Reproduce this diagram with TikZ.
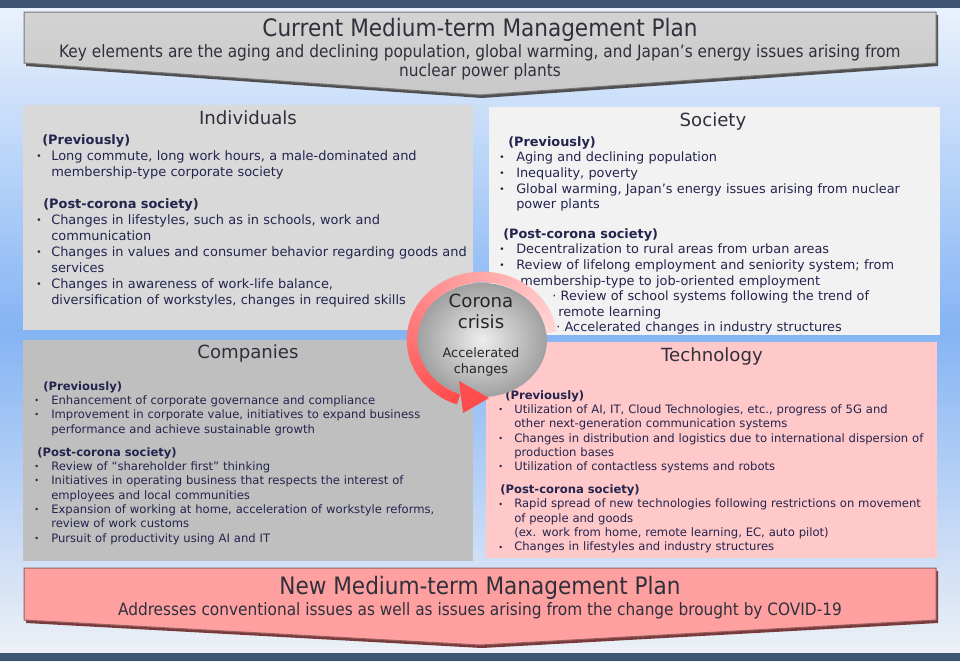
\documentclass[tikz,border=0pt]{standalone}
\usepackage{fontspec}
\setmainfont{DejaVu Sans}
\newfontfamily\bannerfont{DejaVu Sans Condensed}
\usetikzlibrary{shapes.geometric}
\definecolor{barblue}{RGB}{61,85,112}
\definecolor{skytop}{RGB}{236,243,252}
\definecolor{skymid}{RGB}{132,180,244}
\definecolor{skybot}{RGB}{240,242,246}
\definecolor{navytext}{RGB}{36,36,78}
\definecolor{titlegray}{RGB}{48,48,60}
\definecolor{indgray}{RGB}{217,217,217}
\definecolor{socwhite}{RGB}{242,242,242}
\definecolor{comgray}{RGB}{191,191,191}
\definecolor{techpink}{RGB}{255,201,201}
\definecolor{curgray}{RGB}{200,200,200}
\definecolor{curshadow}{RGB}{80,80,80}
\definecolor{newpink}{RGB}{255,160,160}
\definecolor{newshadow}{RGB}{120,58,58}
\definecolor{crisislight}{RGB}{238,238,238}
\definecolor{crisisdark}{RGB}{160,160,160}
\definecolor{arcpink}{RGB}{255,214,214}
\definecolor{arcred}{RGB}{255,76,76}

% bullet item with hanging text
\newcommand\itm[2][11.25pt]{\par\hangindent=#1\hangafter=1\noindent\makebox[#1][l]{\raisebox{0.15ex}{\scalebox{0.7}{•}}}#2}
\newcommand\hdr[2]{\par\noindent\hspace*{#1}\textbf{#2}}
\newcommand\subitm[2]{\par\noindent\hspace*{#1}· #2}

\begin{document}
\begin{tikzpicture}[x=0.75pt,y=-0.75pt,
    banner/.style={draw=#1!60!black, line width=0.75pt},
    bannertitle/.style={font=\bannerfont\fontsize{18}{20}\selectfont, text=titlegray, inner sep=0pt},
    bannersub/.style={font=\bannerfont\fontsize{12.8}{14.25}\selectfont, text=titlegray, inner sep=0pt, align=center},
    quadtitle/.style={font=\fontsize{13.6}{16}\selectfont, text=titlegray, inner sep=0pt},
    bodybig/.style={anchor=north west, inner sep=0pt, text width=345pt, align=left, text=navytext, font=\fontsize{9.7}{12}\selectfont},
    bodysoc/.style={bodybig, font=\fontsize{9.65}{11.7}\selectfont},
    bodysmall/.style={bodybig, font=\fontsize{8.7}{10.75}\selectfont},
    crisistext/.style={inner sep=0pt, align=center, text=black!85}]
\useasboundingbox (0,0) rectangle (960,661);

% background
\shade[top color=skytop, bottom color=skymid] (0,0) rectangle (960,331);
\shade[top color=skymid, bottom color=skybot] (0,330) rectangle (960,661);
\fill[barblue] (0,0) rectangle (960,8);
\fill[barblue] (0,653) rectangle (960,661);

% current plan banner
\fill[curshadow] (26,15) -- (938,15) -- (938,66) -- (482,98) -- (26,66) -- cycle;
\shade[top color=curgray!80!white, bottom color=curgray, banner=curgray] (24,12) -- (936,12) -- (936,63) -- (480,95) -- (24,63) -- cycle;
\node[bannertitle] (curtitle) at (480,30) {Current Medium-term Management Plan};
\node[bannersub] (cursub) at (480,62.5) {Key elements are the aging and declining population, global warming, and Japan’s energy issues arising from\\nuclear power plants};

% four quadrants
\fill[indgray] (23,105) rectangle (473,330);
\fill[socwhite] (489,107) rectangle (940,335);
\fill[comgray] (23,340) rectangle (473,561);
\fill[techpink] (486,342) rectangle (937,558);

\node[quadtitle] (indivtitle) at (248,118) {Individuals};
\node[quadtitle] (soctitle) at (713,121) {Society};
\node[quadtitle] (comtitle) at (248,353) {Companies};
\node[quadtitle] (techtitle) at (712,356) {Technology};

\node[bodybig] (indivbody) at (36,128) {%
  \hdr{4.5pt}{(Previously)}
  \itm{Long commute, long work hours, a male-dominated and\newline membership-type corporate society}
  \par\vspace{12pt}
  \hdr{5.25pt}{(Post-corona society)}
  \itm{Changes in lifestyles, such as in schools, work and\newline communication}
  \itm{Changes in values and consumer behavior regarding goods and\newline services}
  \itm{Changes in awareness of work-life balance,\newline diversification of workstyles, changes in required skills}\par};

\node[bodysoc] (socbody) at (499,130.5) {%
  \hdr{6.75pt}{(Previously)}
  \itm[12.75pt]{Aging and declining population}
  \itm[12.75pt]{Inequality, poverty}
  \itm[12.75pt]{Global warming, Japan’s energy issues arising from nuclear\newline power plants}
  \par\vspace{10.5pt}
  \hdr{3pt}{(Post-corona society)}
  \itm[12.75pt]{Decentralization to rural areas from urban areas}
  \itm[12.75pt]{Review of lifelong employment and seniority system; from\newline\hspace*{3pt}membership-type to job-oriented employment}
  \subitm{39.75pt}{Review of school systems following the trend of}
  \par\noindent\hspace*{44.25pt}remote learning
  \subitm{42.75pt}{Accelerated changes in industry structures}\par};

\node[bodysmall] (combody) at (34,375.5) {%
  \hdr{6.75pt}{(Previously)}
  \itm[12.75pt]{Enhancement of corporate governance and compliance}
  \itm[12.75pt]{Improvement in corporate value, initiatives to expand business\newline performance and achieve sustainable growth}
  \par\vspace{6.5pt}
  \hdr{2.25pt}{(Post-corona society)}
  \itm[12.75pt]{Review of “shareholder first” thinking}
  \itm[12.75pt]{Initiatives in operating business that respects the interest of\newline employees and local communities}
  \itm[12.75pt]{Expansion of working at home, acceleration of workstyle reforms,\newline review of work customs}
  \itm[12.75pt]{Pursuit of productivity using AI and IT}\par};

\node[bodysmall] (techbody) at (498,384.5) {%
  \hdr{5.25pt}{(Previously)}
  \itm[12pt]{Utilization of AI, IT, Cloud Technologies, etc., progress of 5G and\newline other next-generation communication systems}
  \itm[12pt]{Changes in distribution and logistics due to international dispersion of\newline production bases}
  \itm[12pt]{Utilization of contactless systems and robots}
  \par\vspace{6.4pt}
  \hdr{1.5pt}{(Post-corona society)}
  \itm[12pt]{Rapid spread of new technologies following restrictions on movement\newline of people and goods\newline (ex. work from home, remote learning, EC, auto pilot)}
  \itm[12pt]{Changes in lifestyles and industry structures}\par};

% corona crisis circle with arrow ring
\node[ellipse, shade, inner color=crisislight, outer color=crisisdark, minimum width=97.5pt, minimum height=85.5pt] (crisis) at (482,340) {};
\foreach \i in {0,...,53} {
  \pgfmathsetmacro\p{\i*100/53}
  \pgfmathsetmacro\a{-7-4.5*\i}
  \draw[line width=8pt, draw=arcred!\p!arcpink] (crisis.center) ++(\a:70 and 63) arc[start angle=\a, end angle=\a-5, x radius=70, y radius=63];
}
\fill[arcred] (459,381) -- (489,398) -- (463,413) -- cycle;
\node[crisistext, font=\fontsize{13.6}{15.75}\selectfont] (crisislbl) at (481,311) {Corona\\crisis};
\node[crisistext, font=\fontsize{9.7}{12}\selectfont] (changelbl) at (481,361.5) {Accelerated\\changes};

% new plan banner
\fill[newshadow] (26,571) -- (938,571) -- (938,623) -- (482,648) -- (26,623) -- cycle;
\fill[newpink, banner=newpink] (24,568) -- (936,568) -- (936,620) -- (480,645) -- (24,620) -- cycle;
\node[bannertitle] (newtitle) at (480,588) {New Medium-term Management Plan};
\node[bannersub] (newsub) at (480,611) {Addresses conventional issues as well as issues arising from the change brought by COVID-19};
\end{tikzpicture}
\end{document}
